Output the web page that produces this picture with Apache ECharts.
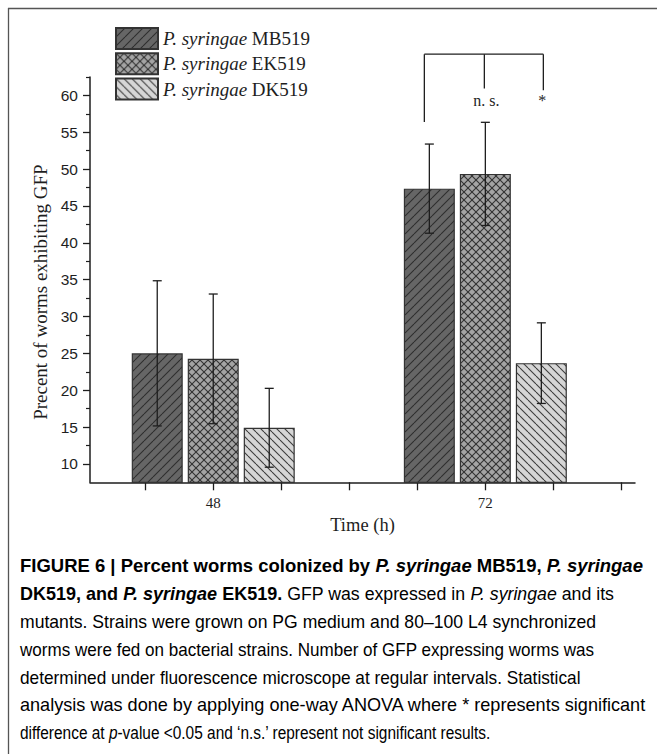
<!DOCTYPE html>
<html><head><meta charset="utf-8">
<script src="https://cdn.jsdelivr.net/npm/echarts@6/dist/echarts.min.js"></script>
<style>html,body{margin:0;padding:0;background:#fff;}#c{width:657px;height:754px;}</style>
</head><body><div id="c"></div>
<script>
// ---- data ----
const times = [48, 72];
const strainNames = ['P. syringae MB519', 'P. syringae EK519', 'P. syringae DK519'];
const meanMB = [25.0, 47.35];
const meanEK = [24.25, 49.35];
const meanDK = [14.9, 23.67];
const errMB = [9.85, 6.05];
const errEK = [8.8, 7.0];
const errDK = [5.35, 5.47];
const yTickValues = [10, 15, 20, 25, 30, 35, 40, 45, 50, 55, 60];
const yMinorTickValues = [12.5, 17.5, 22.5, 27.5, 32.5, 37.5, 42.5, 47.5, 52.5, 57.5, 62.5];
const xTickValues = [42, 48, 54, 60, 66, 72, 78, 84];
const xLabelValues = [48, 72];
// significance bracket at 72 h: top level and drop ends (y-axis units)
const bracketTime = 72;
const bracketTop = 65.6;
const bracketDrops = [56.4, 60.95, 60.7];
const bracketLabels = ['', 'n. s.', '*'];
const bracketLabelY = 59.3;
const captionLines = [
  [['b', 'FIGURE 6 | Percent worms colonized by '], ['bi', 'P. syringae'], ['b', ' MB519, '], ['bi', 'P. syringae']],
  [['b', 'DK519, and '], ['bi', 'P. syringae'], ['b', ' EK519.'], ['r', ' GFP was expressed in '], ['ri', 'P. syringae'], ['r', ' and its']],
  [['r', 'mutants. Strains were grown on PG medium and 80\u2013100 L4 synchronized']],
  [['r', 'worms were fed on bacterial strains. Number of GFP expressing worms was']],
  [['r', 'determined under fluorescence microscope at regular intervals. Statistical']],
  [['r', 'analysis was done by applying one-way ANOVA where * represents significant']],
  [['r', 'difference at '], ['ri', 'p'], ['r', '-value <0.05 and \u2018n.s.\u2019 represent not significant results.']]
];
// right end (px) of each caption line as laid out in the figure
const captionLineEnds = [643, 614, 596, 594, 580, 647, 491];

// ---- styling ----
const BAR_W = 51, BAR_GAP = 5;
const SERIF = '"Liberation Serif", "DejaVu Serif", serif';
const SANS = '"Liberation Sans", Arial, sans-serif';
const INK = '#1e1e1e';

function makePattern(size, fill, stroke, dirs) {
  const c = document.createElement('canvas');
  c.width = size; c.height = size;
  const g = c.getContext('2d');
  g.fillStyle = fill; g.fillRect(0, 0, size, size);
  g.strokeStyle = stroke; g.lineWidth = 1.1;
  dirs.forEach(d => {
    for (let k = -1; k <= 1; k++) {
      g.beginPath();
      if (d === '/') { g.moveTo(k * size, size); g.lineTo(k * size + size, 0); }
      else { g.moveTo(k * size, 0); g.lineTo(k * size + size, size); }
      g.stroke();
    }
  });
  return { image: c, repeat: 'repeat', imageWidth: size, imageHeight: size };
}
const patMB = makePattern(9, '#666666', '#2e2e2e', ['/']);
const patEK = makePattern(8, '#a4a4a4', '#333333', ['/', '\\']);
const patDK = makePattern(8, '#d6d6d6', '#3c3c3c', ['\\']);

const means = [meanMB, meanEK, meanDK];
const errs = [errMB, errEK, errDK];
const pats = [patMB, patEK, patDK];

const barSeries = strainNames.map((name, s) => ({
  type: 'bar', name: name,
  data: times.map((t, i) => [t, means[s][i]]),
  barWidth: BAR_W, barGap: (BAR_GAP / BAR_W * 100) + '%',
  itemStyle: { color: pats[s], borderColor: '#333', borderWidth: 1.2 },
  clip: true, z: 2
}));

const errData = [];
means.forEach((m, s) => times.forEach((t, i) => errData.push([t, m[i] - errs[s][i], m[i] + errs[s][i], s])));

const lineStyle = { stroke: INK, lineWidth: 1.3 };
const errSeries = {
  type: 'custom', name: 'err', data: errData, z: 5, silent: true,
  itemStyle: { color: INK },
  encode: { x: 0, y: [1, 2] },
  renderItem: function (params, api) {
    const t = api.value(0), lo = api.value(1), hi = api.value(2), s = api.value(3);
    const off = (s - 1) * (BAR_W + BAR_GAP);
    const pHi = api.coord([t, hi]), pLo = api.coord([t, lo]);
    const x = pHi[0] + off;
    return { type: 'group', children: [
      { type: 'line', shape: { x1: x, y1: pHi[1], x2: x, y2: pLo[1] }, style: lineStyle },
      { type: 'line', shape: { x1: x - 4.5, y1: pHi[1], x2: x + 4.5, y2: pHi[1] }, style: lineStyle },
      { type: 'line', shape: { x1: x - 4.5, y1: pLo[1], x2: x + 4.5, y2: pLo[1] }, style: lineStyle }
    ] };
  }
};

const bracketOffsets = [-61, -1, 58];
const bracketLabelNudge = [0, 2, -1];
const bracketSeries = {
  type: 'custom', name: 'sig', data: [[bracketTime, bracketTop]], z: 5, silent: true, clip: false,
  itemStyle: { color: INK },
  renderItem: function (params, api) {
    const t = api.value(0);
    const top = api.coord([t, bracketTop]);
    const children = [];
    const xs = bracketOffsets.map(o => top[0] + o);
    children.push({ type: 'line', shape: { x1: xs[0], y1: top[1], x2: xs[2], y2: top[1] }, style: lineStyle });
    bracketDrops.forEach((d, k) => {
      const p = api.coord([t, d]);
      children.push({ type: 'line', shape: { x1: xs[k], y1: top[1], x2: xs[k], y2: p[1] }, style: lineStyle });
    });
    return { type: 'group', children: children };
  }
};

const captionRich = {
  b: { fontFamily: SANS, fontWeight: 'bold', fontSize: 18, color: INK },
  bi: { fontFamily: SANS, fontWeight: 'bold', fontStyle: 'italic', fontSize: 18, color: INK },
  r: { fontFamily: SANS, fontSize: 17.7, color: '#383838' },
  ri: { fontFamily: SANS, fontStyle: 'italic', fontSize: 17.7, color: '#383838' }
};
const measureCtx = document.createElement('canvas').getContext('2d');
function segWidth(seg) {
  const r = captionRich[seg[0]];
  measureCtx.font = (r.fontStyle || 'normal') + ' ' + (r.fontWeight || 'normal') + ' ' + r.fontSize + 'px ' + r.fontFamily;
  return measureCtx.measureText(seg[1]).width;
}
const CAP_X = 20;
const captionGraphics = captionLines.map((line, i) => {
  const w = line.reduce((a, seg) => a + segWidth(seg), 0);
  const sx = (captionLineEnds[i] - CAP_X) / w;
  return {
    type: 'text', x: CAP_X, y: 566 + i * 27.9, scaleX: sx,
    style: { text: line.map(seg => '{' + seg[0] + '|' + seg[1] + '}').join(''), rich: captionRich, verticalAlign: 'middle' }
  };
});

const chart = echarts.init(document.getElementById('c'), null, { renderer: 'svg' });
chart.setOption({
  animation: false,
  backgroundColor: '#fff',
  grid: { left: 90, top: 77, width: 545, height: 405.3, containLabel: false },
  legend: {
    orient: 'vertical', left: 110, top: 22, padding: 5, itemWidth: 42, itemHeight: 21, itemGap: 2.3,
    icon: 'rect', selectedMode: false,
    data: strainNames,
    formatter: function (name) { const p = name.split(' '); return '{i|' + p[0] + ' ' + p[1] + '} {n|' + p[2] + '}'; },
    textStyle: { fontFamily: SERIF, fontSize: 19, color: INK,
      rich: { i: { fontFamily: SERIF, fontStyle: 'italic', fontSize: 19, lineHeight: 21, color: INK },
              n: { fontFamily: SERIF, fontSize: 19, lineHeight: 21, color: INK } } }
  },
  xAxis: {
    type: 'value', min: 37.13, max: 85.2,
    axisLine: { show: true, onZero: false, lineStyle: { color: INK, width: 1.5 } },
    axisTick: { show: true, length: 8, customValues: xTickValues, lineStyle: { color: INK, width: 1.3 } },
    axisLabel: { customValues: xLabelValues, margin: 13, fontFamily: SERIF, fontSize: 15, color: INK },
    splitLine: { show: false },
    name: 'Time (h)', nameLocation: 'middle', nameGap: 29,
    nameTextStyle: { fontFamily: SERIF, fontSize: 18.5, color: INK }
  },
  yAxis: [{
    type: 'value', min: 7.5, max: 62.5,
    axisLine: { show: true, lineStyle: { color: INK, width: 1.5 } },
    axisTick: { show: true, length: 7, customValues: yTickValues, lineStyle: { color: INK, width: 1.3 } },
    axisLabel: { customValues: yTickValues, margin: 12, fontFamily: SANS, fontSize: 15.5, color: INK },
    splitLine: { show: false },
    name: 'Precent of worms exhibiting GFP', nameLocation: 'middle', nameRotate: 90, nameGap: 34,
    nameTextStyle: { fontFamily: SERIF, fontSize: 19, color: INK, padding: [0, 25, 0, 0] }
  }, {
    type: 'value', min: 7.5, max: 62.5, position: 'left',
    axisLine: { show: false },
    axisTick: { show: true, length: 4, customValues: yMinorTickValues, lineStyle: { color: INK, width: 1.2 } },
    axisLabel: { show: false }, splitLine: { show: false }
  }],
  series: barSeries.concat([errSeries, bracketSeries]),
  graphic: [
    { type: 'line', shape: { x1: 8.5, y1: 8, x2: 8.5, y2: 754 }, style: { stroke: '#555', lineWidth: 1.3 } },
    { type: 'line', shape: { x1: 8, y1: 8.5, x2: 657, y2: 8.5 }, style: { stroke: '#555', lineWidth: 1.6 } }
  ].concat(captionGraphics)
});

// significance labels, placed through the chart's own scales
const groupPx = chart.convertToPixel({ gridIndex: 0 }, [bracketTime, bracketLabelY]);
const labelGraphics = [];
bracketLabels.forEach((lab, k) => {
  if (!lab) return;
  labelGraphics.push({
    type: 'text', x: groupPx[0] + bracketOffsets[k] + bracketLabelNudge[k], y: groupPx[1],
    style: { text: lab, align: 'center', verticalAlign: 'middle', font: '16px ' + SERIF, fill: INK }
  });
});
const g0 = chart.getOption().graphic[0].elements.length;
chart.setOption({ graphic: [
  { type: 'line', shape: { x1: 8.5, y1: 8, x2: 8.5, y2: 754 }, style: { stroke: '#555', lineWidth: 1.3 } },
  { type: 'line', shape: { x1: 8, y1: 8.5, x2: 657, y2: 8.5 }, style: { stroke: '#555', lineWidth: 1.6 } }
].concat(captionGraphics, labelGraphics) }, { replaceMerge: ['graphic'] });
</script>
</body></html>
